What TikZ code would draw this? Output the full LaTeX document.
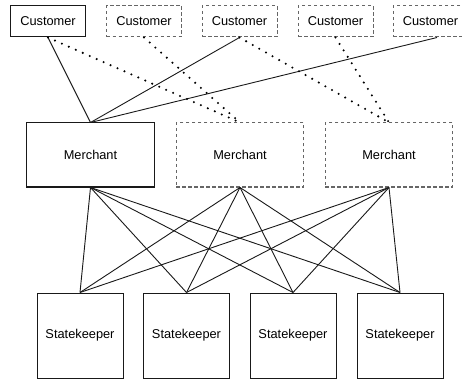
\documentclass[tikz,border=0pt]{standalone}
\usepackage{fontspec}
\setmainfont{Liberation Sans}
\begin{document}
\begin{tikzpicture}[x=1pt,y=-1pt,
  box/.style={rectangle,draw=black!90,line width=1pt,inner sep=0pt,
    font=\fontsize{12.8}{15}\selectfont},
  ghost/.style={box,draw=black!60,dash pattern=on 3.5pt off 2.5pt},
  cust/.style={minimum width=75pt,minimum height=31pt},
  merch/.style={minimum width=127.5pt,minimum height=64pt},
  keeper/.style={minimum width=86pt,minimum height=85pt},
  link/.style={line width=0.9pt,black!90},
  maybe/.style={line width=2.3pt,line cap=round,dash pattern=on 0pt off 7.6pt,black}]
\useasboundingbox (0,0) rectangle (462,379);
\begin{scope}
\clip (0,0) rectangle (462,379);
% customers
\node[box,cust]   (c1) at (48,21.5)    {Customer};
\node[ghost,cust] (c2) at (144,21.5)   {Customer};
\node[ghost,cust] (c3) at (239.5,21.5) {Customer};
\node[ghost,cust] (c4) at (335.5,21.5) {Customer};
\node[ghost,cust] (c5) at (430.5,21.5) {Customer};
% merchants
\node[box,merch]   (m1) at (90.5,155) {Merchant};
\node[ghost,merch] (m2) at (240,155)  {Merchant};
\node[ghost,merch] (m3) at (389,155)  {Merchant};
% statekeepers
\node[box,keeper] (s1) at (80,335.5)    {Statekeeper};
\node[box,keeper] (s2) at (186.5,335.5) {Statekeeper};
\node[box,keeper] (s3) at (293,335.5)   {Statekeeper};
\node[box,keeper] (s4) at (400,335.5)   {Statekeeper};
\end{scope}
\coordinate (c5out) at ([xshift=6.5pt]c5.south);
% customer to merchant
\draw[link] (c1.south) -- (m1.north);
\draw[link] (c3.south) -- (m1.north);
\draw[link] (c5out) -- (m1.north);
\draw[maybe] (c1.south) -- (m2.north);
\draw[maybe] (c2.south) -- (m2.north);
\draw[maybe] (c3.south) -- (m3.north);
\draw[maybe] (c4.south) -- (m3.north);
% merchant to statekeeper
\foreach \m in {m1,m2,m3}{
  \foreach \s in {s1,s2,s3,s4}{
    \draw[link] (\m.south) -- (\s.north);
  }
}
\end{tikzpicture}
\end{document}
